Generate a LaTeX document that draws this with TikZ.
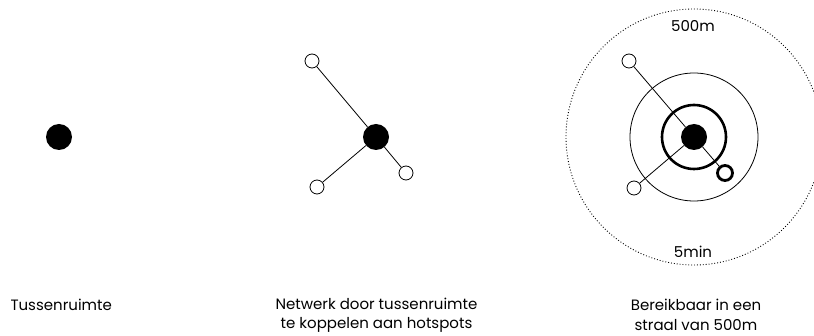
\documentclass[tikz,border=0pt]{standalone}
\usepackage{fontspec}
\setmainfont{Poppins}
\usepackage{tikz}
\usetikzlibrary{arrows.meta}

\begin{document}
\begin{tikzpicture}[x=1pt,y=-1pt,
		hub/.style={circle,fill=black,inner sep=0pt,minimum size=26pt},
		hotspot/.style={circle,draw=black,line width=0.8pt,fill=white,inner sep=0pt,minimum size=14pt},
		link/.style={line width=0.8pt},
		caption/.style={align=center,font=\fontsize{15}{19.5}\selectfont}]
		\useasboundingbox (0,0) rectangle (814,336);
		% Tussenruimte
		\node[hub] (hubA) at (59,137) {};
		\node[caption,anchor=west] (capA) at (7,305) {Tussenruimte};
		% Netwerk met hotspots
		\node[hub] (hubB) at (376,137) {};
		\node[hotspot] (hotB1) at (312,61) {};
		\node[hotspot] (hotB2) at (317,187) {};
		\node[hotspot] (hotB3) at (406,173) {};
		\draw[link] (hubB) -- (hotB1);
		\draw[link] (hubB) -- (hotB2);
		\draw[link] (hubB) -- (hotB3);
		\node[caption] (capB) at (376.5,315) {Netwerk door tussenruimte\\te koppelen aan hotspots};
		% Bereik 500m
		\draw[dotted,line width=0.9pt] (694,137) circle (128);
		\draw[link] (694,137) circle (64);
		\draw[line width=2.6pt] (694,137) circle (32);
		\node[hub] (hubC) at (694,137) {};
		\node[hotspot] (hotC1) at (629,61) {};
		\node[hotspot] (hotC2) at (634,188) {};
		\node[hotspot,line width=2.8pt,minimum size=15pt] (hotC3) at (725,173) {};
		\draw[link] (hubC) -- (hotC1);
		\draw[link] (hubC) -- (hotC2);
		\draw[link] (hubC) -- (hotC3);
		\node[caption] (lblTop) at (693,26) {500m};
		\node[caption] (lblBot) at (693,252) {5min};
		\node[caption] (capC) at (696,315) {Bereikbaar in een\\straal van 500m};
	\end{tikzpicture}
\end{document}
